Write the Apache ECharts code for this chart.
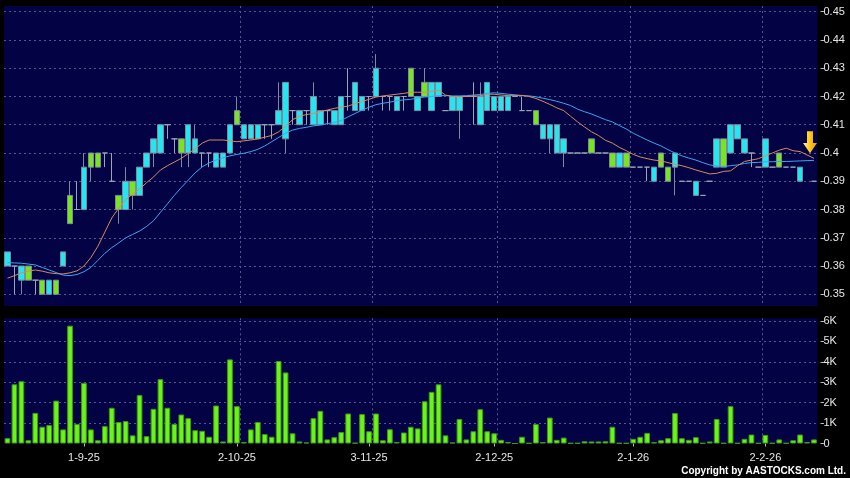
<!DOCTYPE html>
<html>
<head>
<meta charset="utf-8">
<script src="https://cdn.jsdelivr.net/npm/echarts@6/dist/echarts.min.js"></script>
<style>
html,body{margin:0;padding:0;background:#000;}
#c{width:850px;height:478px;}
</style>
</head>
<body>
<div id="c"></div>
<script>
// ---- data ----
const openP  = [0.36,0.36,0.355,0.36,0.355,0.355,0.35,0.355,0.36,0.385,0.38,0.38,0.40,0.40,0.40,0.39,0.385,0.38,0.39,0.385,
0.395,0.40,0.40,0.41,0.405,0.405,0.40,0.40,0.40,0.40,0.395,0.395,0.40,0.415,0.405,0.405,0.405,0.41,0.41,0.41,
0.405,0.415,0.41,0.415,0.41,0.41,0.415,0.41,0.41,0.42,0.415,0.415,0.42,0.42,0.42,0.42,0.415,0.42,0.43,0.415,
0.425,0.415,0.42,0.415,0.415,0.415,0.42,0.42,0.41,0.415,0.415,0.415,0.415,0.42,0.415,0.415,0.415,0.405,0.405,0.40,
0.40,0.40,0.40,0.40,0.405,0.40,0.40,0.40,0.395,0.40,0.395,0.395,0.395,0.39,0.40,0.395,0.395,0.39,0.39,0.385,
0.385,0.39,0.395,0.405,0.40,0.405,0.40,0.40,0.395,0.395,0.395,0.40,0.395,0.395,0.39,null,0.39];
const closeP = [0.365,0.36,0.36,0.355,0.355,0.35,0.355,0.35,0.365,0.375,0.38,0.395,0.395,0.395,0.40,0.39,0.38,0.39,0.385,0.395,
0.40,0.405,0.41,0.41,0.405,0.40,0.41,0.405,0.40,0.40,0.40,0.40,0.41,0.41,0.41,0.41,0.41,0.41,0.41,0.415,
0.425,0.415,0.415,0.415,0.42,0.415,0.415,0.415,0.42,0.42,0.425,0.42,0.42,0.43,0.42,0.42,0.42,0.42,0.42,0.42,
0.42,0.425,0.425,0.415,0.42,0.42,0.42,0.42,0.42,0.425,0.42,0.42,0.42,0.42,0.415,0.415,0.41,0.41,0.41,0.41,
0.405,0.40,0.40,0.40,0.40,0.40,0.40,0.395,0.40,0.395,0.395,0.395,0.395,0.395,0.395,0.39,0.40,0.39,0.39,0.39,
0.385,0.39,0.405,0.395,0.41,0.41,0.405,0.40,0.395,0.405,0.395,0.395,0.395,0.395,0.395,null,0.39];
const lowP   = [0.36,0.35,0.35,0.355,0.35,0.35,0.35,0.35,0.36,0.375,0.38,0.38,0.39,0.395,0.395,0.39,0.375,0.38,0.38,0.385,
0.395,0.395,0.40,0.405,0.40,0.395,0.395,0.40,0.395,0.395,0.395,0.395,0.40,0.41,0.405,0.405,0.405,0.405,0.405,0.41,
0.40,0.41,0.41,0.41,0.41,0.41,0.41,0.41,0.41,0.415,0.415,0.415,0.415,0.42,0.415,0.415,0.415,0.415,0.42,0.415,
0.42,0.415,0.42,0.415,0.415,0.405,0.42,0.41,0.41,0.415,0.415,0.415,0.415,0.42,0.415,0.415,0.41,0.405,0.40,0.40,
0.395,0.40,0.40,0.40,0.40,0.40,0.40,0.395,0.395,0.395,0.395,0.395,0.39,0.39,0.395,0.39,0.385,0.39,0.39,0.385,
0.385,0.39,0.395,0.395,0.40,0.405,0.40,0.395,0.395,0.395,0.395,0.395,0.395,0.395,0.39,null,0.39];
const highP  = [0.365,0.36,0.36,0.36,0.355,0.355,0.355,0.355,0.365,0.39,0.39,0.40,0.40,0.40,0.40,0.40,0.385,0.395,0.39,0.395,
0.40,0.405,0.41,0.41,0.405,0.405,0.41,0.41,0.40,0.40,0.40,0.40,0.41,0.42,0.41,0.41,0.41,0.41,0.41,0.425,
0.425,0.415,0.415,0.415,0.425,0.415,0.415,0.415,0.42,0.43,0.425,0.42,0.42,0.435,0.42,0.42,0.42,0.42,0.43,0.42,
0.43,0.425,0.425,0.415,0.42,0.42,0.42,0.425,0.425,0.425,0.42,0.42,0.42,0.42,0.42,0.415,0.415,0.41,0.41,0.41,
0.405,0.40,0.40,0.40,0.405,0.40,0.40,0.40,0.40,0.40,0.395,0.395,0.395,0.395,0.40,0.395,0.40,0.39,0.39,0.39,
0.385,0.39,0.405,0.405,0.41,0.41,0.405,0.40,0.395,0.405,0.395,0.40,0.395,0.395,0.395,null,0.39];
const maShort = [0.3557,0.3566,0.3576,0.3582,0.3586,0.3582,0.3576,0.3573,0.3572,0.3576,0.3583,0.3600,0.3630,0.3670,0.3720,0.3770,0.3805,0.3835,0.3855,0.3872,
0.3895,0.3915,0.3940,0.3955,0.3968,0.3981,0.3998,0.4015,0.4035,0.4046,0.4046,0.4046,0.4043,0.4040,0.4043,0.4046,0.4050,0.4056,0.4062,0.4075,
0.4095,0.4118,0.4130,0.4136,0.4140,0.4146,0.4152,0.4158,0.4162,0.4166,0.4175,0.4182,0.4190,0.4198,0.4202,0.4205,0.4208,0.4211,0.4215,0.4215,
0.4215,0.4218,0.4223,0.4205,0.4200,0.4199,0.4200,0.4202,0.4202,0.4208,0.4208,0.4205,0.4203,0.4203,0.4204,0.4200,0.4193,0.4183,0.4172,0.4160,
0.4150,0.4130,0.4110,0.4092,0.4075,0.4062,0.4045,0.4035,0.4020,0.4008,0.3995,0.3986,0.3980,0.3975,0.3972,0.3966,0.3960,0.3955,0.3948,0.3940,
0.3933,0.3926,0.3928,0.3935,0.3937,0.3955,0.3970,0.3975,0.3980,0.3990,0.4000,0.4010,0.4017,0.4008,0.4005,0.3993,0.3981];
const maLong = [0.3612,0.3611,0.3610,0.3607,0.3604,0.3595,0.3586,0.3577,0.3568,0.3566,0.3570,0.3580,0.3595,0.3620,0.3645,0.3665,0.3682,0.3700,0.3712,0.3724,
0.3740,0.3760,0.3790,0.3820,0.3850,0.3878,0.3904,0.3930,0.3951,0.3965,0.3975,0.3983,0.3990,0.3995,0.3999,0.4005,0.4013,0.4025,0.4040,0.4055,
0.4070,0.4081,0.4087,0.4091,0.4096,0.4099,0.4104,0.4108,0.4115,0.4128,0.4140,0.4152,0.4162,0.4171,0.4176,0.4180,0.4185,0.4188,0.4190,0.4195,
0.4198,0.4200,0.4203,0.4203,0.4202,0.4202,0.4203,0.4205,0.4207,0.4211,0.4213,0.4211,0.4208,0.4206,0.4203,0.4202,0.4199,0.4194,0.4189,0.4183,
0.4176,0.4168,0.4155,0.4146,0.4138,0.4128,0.4118,0.4110,0.4097,0.4085,0.4070,0.4058,0.4046,0.4035,0.4025,0.4012,0.4000,0.3990,0.3982,0.3975,
0.3966,0.3958,0.3954,0.3953,0.3955,0.3958,0.3963,0.3966,0.3967,0.3969,0.3969,0.3970,0.3970,0.3971,0.3972,0.3973,0.3974];
const volumeK = [0.26,2.9,3.05,0.16,1.5,0.82,0.9,2.1,0.69,5.77,0.96,2.97,0.69,0.16,0.85,1.75,1.05,1.1,0.4,2.37,
0.36,1.7,3.15,1.75,0.96,1.42,1.24,0.65,0.62,0.33,1.86,0.1,4.12,1.83,0.07,0.69,1.05,0.46,0.33,4.04,
3.48,0.5,0.1,0.05,1.24,1.6,0.2,0.31,0.56,1.47,0.03,1.44,0.6,1.47,0.16,0.7,0.07,0.54,0.82,0.74,
2.07,2.53,2.9,0.4,0.05,1.2,0.2,0.6,1.68,0.6,0.5,0.18,0.07,0,0.33,0.02,0.95,0.07,1.27,0.18,
0.29,0.02,0.02,0.11,0.1,0.1,0.11,0.82,0.02,0.02,0.23,0.33,0.52,0.07,0.16,0.26,1.49,0.26,0.18,0.31,
0.02,0.1,1.2,0.02,1.83,0.02,0.23,0.44,0.02,0.42,0.02,0.2,0.02,0.16,0.44,0.07,0.2];
const tickLabels = ['1-9-25','2-10-25','3-11-25','2-12-25','2-1-26','2-2-26'];
const tickLabelIdx = [11,33,52,70,90,109];
const gridLineIdx  = [12,34,53,71,90,109];

// ---- build ----
const n = openP.length;
const categories = [];
for (let i = 0; i < n; i++) {
  const k = tickLabelIdx.indexOf(i);
  categories.push(k >= 0 ? tickLabels[k] : '');
}
const candleData = [];
for (let i = 0; i < n; i++) {
  if (openP[i] == null) candleData.push(['-','-','-','-']);
  else candleData.push([openP[i], closeP[i], lowP[i], highP[i]]);
}
const isLabel = (idx) => tickLabelIdx.indexOf(idx) >= 0;
const isGrid = (idx) => gridLineIdx.indexOf(idx) >= 0;

const NAVY = '#020244';
const GRIDC = '#55558f';
const TXT = '#e6e6e6';
const FONT = '"Liberation Sans", Arial, sans-serif';
const gridLeft = 4, gridRight = 32.5;

const chart = echarts.init(document.getElementById('c'), null, {renderer: 'canvas'});
chart.setOption({
  backgroundColor: '#000000',
  animation: false,
  grid: [
    {left: gridLeft, right: gridRight, top: 6, height: 300, show: true, backgroundColor: NAVY, borderWidth: 0},
    {left: gridLeft, right: gridRight, top: 318.3, height: 125.2, show: true, backgroundColor: NAVY, borderWidth: 0}
  ],
  xAxis: [
    {type: 'category', gridIndex: 0, data: categories, boundaryGap: true,
     axisLine: {show: false}, axisTick: {show: false}, axisLabel: {show: false},
     splitLine: {show: true, interval: (i) => isGrid(i), showMinLine: false, showMaxLine: false,
       lineStyle: {color: GRIDC, type: [2, 3], width: 1}}},
    {type: 'category', gridIndex: 1, data: categories, boundaryGap: true, offset: 2.5,
     axisLine: {show: false},
     axisTick: {show: true, alignWithLabel: true, interval: (i) => isLabel(i), length: 3, lineStyle: {color: '#bbbbbb'}},
     axisLabel: {show: true, interval: (i) => isLabel(i), color: TXT, fontSize: 11, fontFamily: FONT, margin: 6, hideOverlap: false},
     splitLine: {show: true, interval: (i) => isGrid(i), showMinLine: false, showMaxLine: false,
       lineStyle: {color: GRIDC, type: [2, 3], width: 1}}}
  ],
  yAxis: [
    {type: 'value', gridIndex: 0, position: 'right', min: 0.34586, max: 0.45202,
     minInterval: 0.01, maxInterval: 0.01, scale: true, offset: 3,
     axisLine: {show: false},
     axisTick: {show: true, length: 3.5, lineStyle: {color: '#bbbbbb'}},
     axisLabel: {color: TXT, fontSize: 11, fontFamily: FONT, margin: 3, showMinLabel: false, showMaxLabel: false,
       formatter: (v) => String(parseFloat(v.toFixed(2)))},
     splitLine: {show: true, showMinLine: false, showMaxLine: false, lineStyle: {color: GRIDC, type: [2, 3], width: 1}}},
    {type: 'value', gridIndex: 1, position: 'right', min: 0, max: 6.132,
     minInterval: 1, maxInterval: 1, offset: 3,
     axisLine: {show: false},
     axisTick: {show: true, length: 3.5, lineStyle: {color: '#bbbbbb'}},
     axisLabel: {color: TXT, fontSize: 11, fontFamily: FONT, margin: 3, showMaxLabel: false,
       formatter: (v) => v === 0 ? '0' : (Math.round(v) + 'K')},
     splitLine: {show: true, showMinLine: false, showMaxLine: false, lineStyle: {color: GRIDC, type: [2, 3], width: 1}}}
  ],
  series: [
    {type: 'candlestick', xAxisIndex: 0, yAxisIndex: 0, data: candleData, barWidth: '86%',
     itemStyle: {color: '#22e6f0', color0: '#78e61e', borderColor: '#7c8a9c', borderColor0: '#7c8a9c',
       borderColorDoji: '#9aa6b4', borderWidth: 1}, z: 2},
    {type: 'line', xAxisIndex: 0, yAxisIndex: 0, data: maLong, showSymbol: false, smooth: false,
     lineStyle: {color: '#3aa6f0', width: 1}, z: 3},
    {type: 'line', xAxisIndex: 0, yAxisIndex: 0, data: maShort, showSymbol: false, smooth: false,
     lineStyle: {color: '#d88a60', width: 1}, z: 4,
     markPoint: {
       symbol: 'path://M4,0 L10,0 L10,11 L14,11 L7,21 L0,11 L4,11 Z',
       symbolSize: [14, 22], symbolOffset: [-4, -16], symbolKeepAspect: false,
       label: {show: false}, silent: true,
       itemStyle: {color: new echarts.graphic.LinearGradient(0, 0, 1, 0, [
         {offset: 0, color: '#fff2a0'}, {offset: 0.45, color: '#ffcc20'}, {offset: 1, color: '#e09a00'}])},
       data: [{coord: [n - 1, maShort[n - 1]]}]
     }},
    {type: 'bar', xAxisIndex: 1, yAxisIndex: 1, data: volumeK, barWidth: '82%',
     itemStyle: {color: '#6cf41a', borderColor: '#3d9a12', borderWidth: 1}, z: 2}
  ],
  graphic: [
    {type: 'text', right: 4, top: 466, z: 10,
     style: {text: 'Copyright by AASTOCKS.com Ltd.', fill: '#ffffff', font: 'bold 10px "Liberation Sans", Arial, sans-serif'}}
  ]
});
</script>
</body>
</html>
